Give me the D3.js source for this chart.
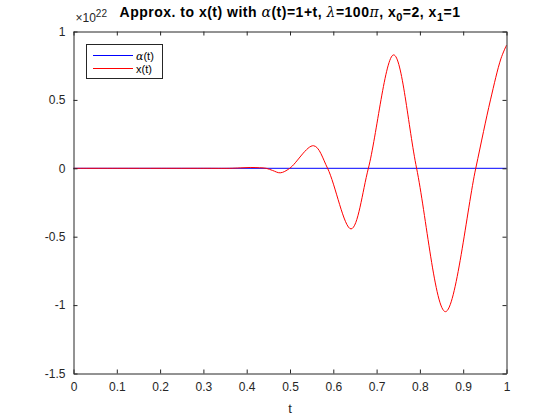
<!DOCTYPE html>
<meta charset="utf-8">
<title>Approx. to x(t)</title>
<style>
body {
  margin: 0;
  background: #fff;
}
svg {
  font-family: "Liberation Sans", Arial, sans-serif;
}
.tick text {
  font-size: 12px;
  fill: #262626;
}
.greek {
  font-family: "DejaVu Serif", "Liberation Serif", serif;
  font-weight: normal;
  font-style: italic;
}
</style>
<svg></svg>
<script src="https://cdn.jsdelivr.net/npm/d3@7"></script>
<script>
// values of x(t) (peaks, troughs, zero crossings), in units of 1e22
var tVals = [0, 0.30, 0.36, 0.385, 0.408, 0.43, 0.445, 0.46, 0.4775, 0.4994,
  0.5545, 0.5868, 0.641, 0.681, 0.7394, 0.7924, 0.859, 0.929, 0.963, 0.987, 1.0];
var xVals = [0, 0, 0, 0.003, 0.006, 0.004, 0, -0.016, -0.033, 0,
  0.165, 0, -0.443, 0, 0.829, 0, -1.048, 0, 0.5, 0.80, 0.90];
// alpha(t) = 1 + t, drawn on the same 1e22 axis
var alphaT = [0, 1];
var alphaVals = [1, 2];
var xTicks = [0, 0.1, 0.2, 0.3, 0.4, 0.5, 0.6, 0.7, 0.8, 0.9, 1];
var yTicks = [-1.5, -1, -0.5, 0, 0.5, 1];
var legendLabels = ["\u03b1(t)", "x(t)"];

var width = 560, height = 420;
var mLeft = 73.5, mRight = 506.5, mTop = 31.5, mBottom = 373.5;

var svg = d3.select("svg")
    .attr("width", width)
    .attr("height", height);

var x = d3.scaleLinear().domain([0, 1]).range([mLeft, mRight]);
var y = d3.scaleLinear().domain([-1.5, 1]).range([mBottom, mTop]);

var line = d3.line()
    .x(function(d) { return x(d[0]); })
    .y(function(d) { return y(d[1]); });

var alphaData = alphaT.map(function(t, i) { return [t, alphaVals[i] / 1e22]; });
var xData = tVals.map(function(t, i) { return [t, xVals[i]]; });

svg.append("path")
    .datum(alphaData)
    .attr("d", line)
    .attr("fill", "none")
    .attr("stroke", "#0000ff")
    .attr("stroke-width", 1);

svg.append("path")
    .datum(xData)
    .attr("d", line.curve(d3.curveCatmullRom.alpha(0.5)))
    .attr("fill", "none")
    .attr("stroke", "#ff0000")
    .attr("stroke-width", 1);

// axes, MATLAB style: ticks point inward on all four sides
var fmt = function(d) { return String(+d.toFixed(1)); };
svg.append("g")
    .attr("transform", "translate(0," + mBottom + ")")
    .call(d3.axisBottom(x).tickValues(xTicks).tickFormat(fmt).tickSizeInner(-4).tickSizeOuter(0).tickPadding(9));
svg.append("g")
    .attr("transform", "translate(0," + mTop + ")")
    .call(d3.axisTop(x).tickValues(xTicks).tickFormat("").tickSizeInner(-4).tickSizeOuter(0));
svg.append("g")
    .attr("transform", "translate(" + mLeft + ",0)")
    .call(d3.axisLeft(y).tickValues(yTicks).tickFormat(fmt).tickSizeInner(-4).tickSizeOuter(0).tickPadding(8));
svg.append("g")
    .attr("transform", "translate(" + mRight + ",0)")
    .call(d3.axisRight(y).tickValues(yTicks).tickFormat("").tickSizeInner(-4).tickSizeOuter(0));
svg.selectAll(".domain, .tick line").attr("stroke", "#262626");

// exponent label
var ex = svg.append("text")
    .attr("x", mLeft + 2)
    .attr("y", 22)
    .attr("font-size", 12)
    .attr("fill", "#262626");
ex.append("tspan").text("\u00d710");
ex.append("tspan").attr("font-size", 10).attr("dy", -5).text("22");

// x label
svg.append("text")
    .attr("x", (mLeft + mRight) / 2)
    .attr("y", 413)
    .attr("text-anchor", "middle")
    .attr("font-size", 13)
    .attr("fill", "#262626")
    .text("t");

// title
var title = svg.append("text")
    .attr("x", (mLeft + mRight) / 2)
    .attr("y", 17)
    .attr("text-anchor", "middle")
    .attr("font-size", 14)
    .attr("letter-spacing", 0.5)
    .attr("font-weight", "bold")
    .attr("fill", "#000");
title.append("tspan").text("Approx. to x(t) with ");
title.append("tspan").attr("class", "greek").text("\u03b1");
title.append("tspan").text("(t)=1+t,  ");
title.append("tspan").attr("class", "greek").text("\u03bb");
title.append("tspan").text("=100");
title.append("tspan").attr("class", "greek").text("\u03c0");
title.append("tspan").text(", x");
title.append("tspan").attr("font-size", 11).attr("dy", 4).text("0");
title.append("tspan").attr("dy", -4).text("=2, x");
title.append("tspan").attr("font-size", 11).attr("dy", 4).text("1");
title.append("tspan").attr("dy", -4).text("=1");

// legend
var legend = svg.append("g");
legend.append("rect")
    .attr("x", 86.5).attr("y", 44.5)
    .attr("width", 76).attr("height", 34)
    .attr("fill", "#fff")
    .attr("stroke", "#262626");
var colors = ["#0000ff", "#ff0000"];
legendLabels.forEach(function(lbl, i) {
  var ly = 55.5 + i * 13;
  legend.append("line")
      .attr("x1", 93).attr("x2", 133)
      .attr("y1", ly).attr("y2", ly)
      .attr("stroke", colors[i]);
  var t = legend.append("text")
      .attr("x", 136)
      .attr("y", ly + 4)
      .attr("font-size", 11)
      .attr("fill", "#000");
  if (i === 0) {
    t.append("tspan").attr("class", "greek").text("\u03b1");
    t.append("tspan").text("(t)");
  } else {
    t.text(lbl);
  }
});
</script>
